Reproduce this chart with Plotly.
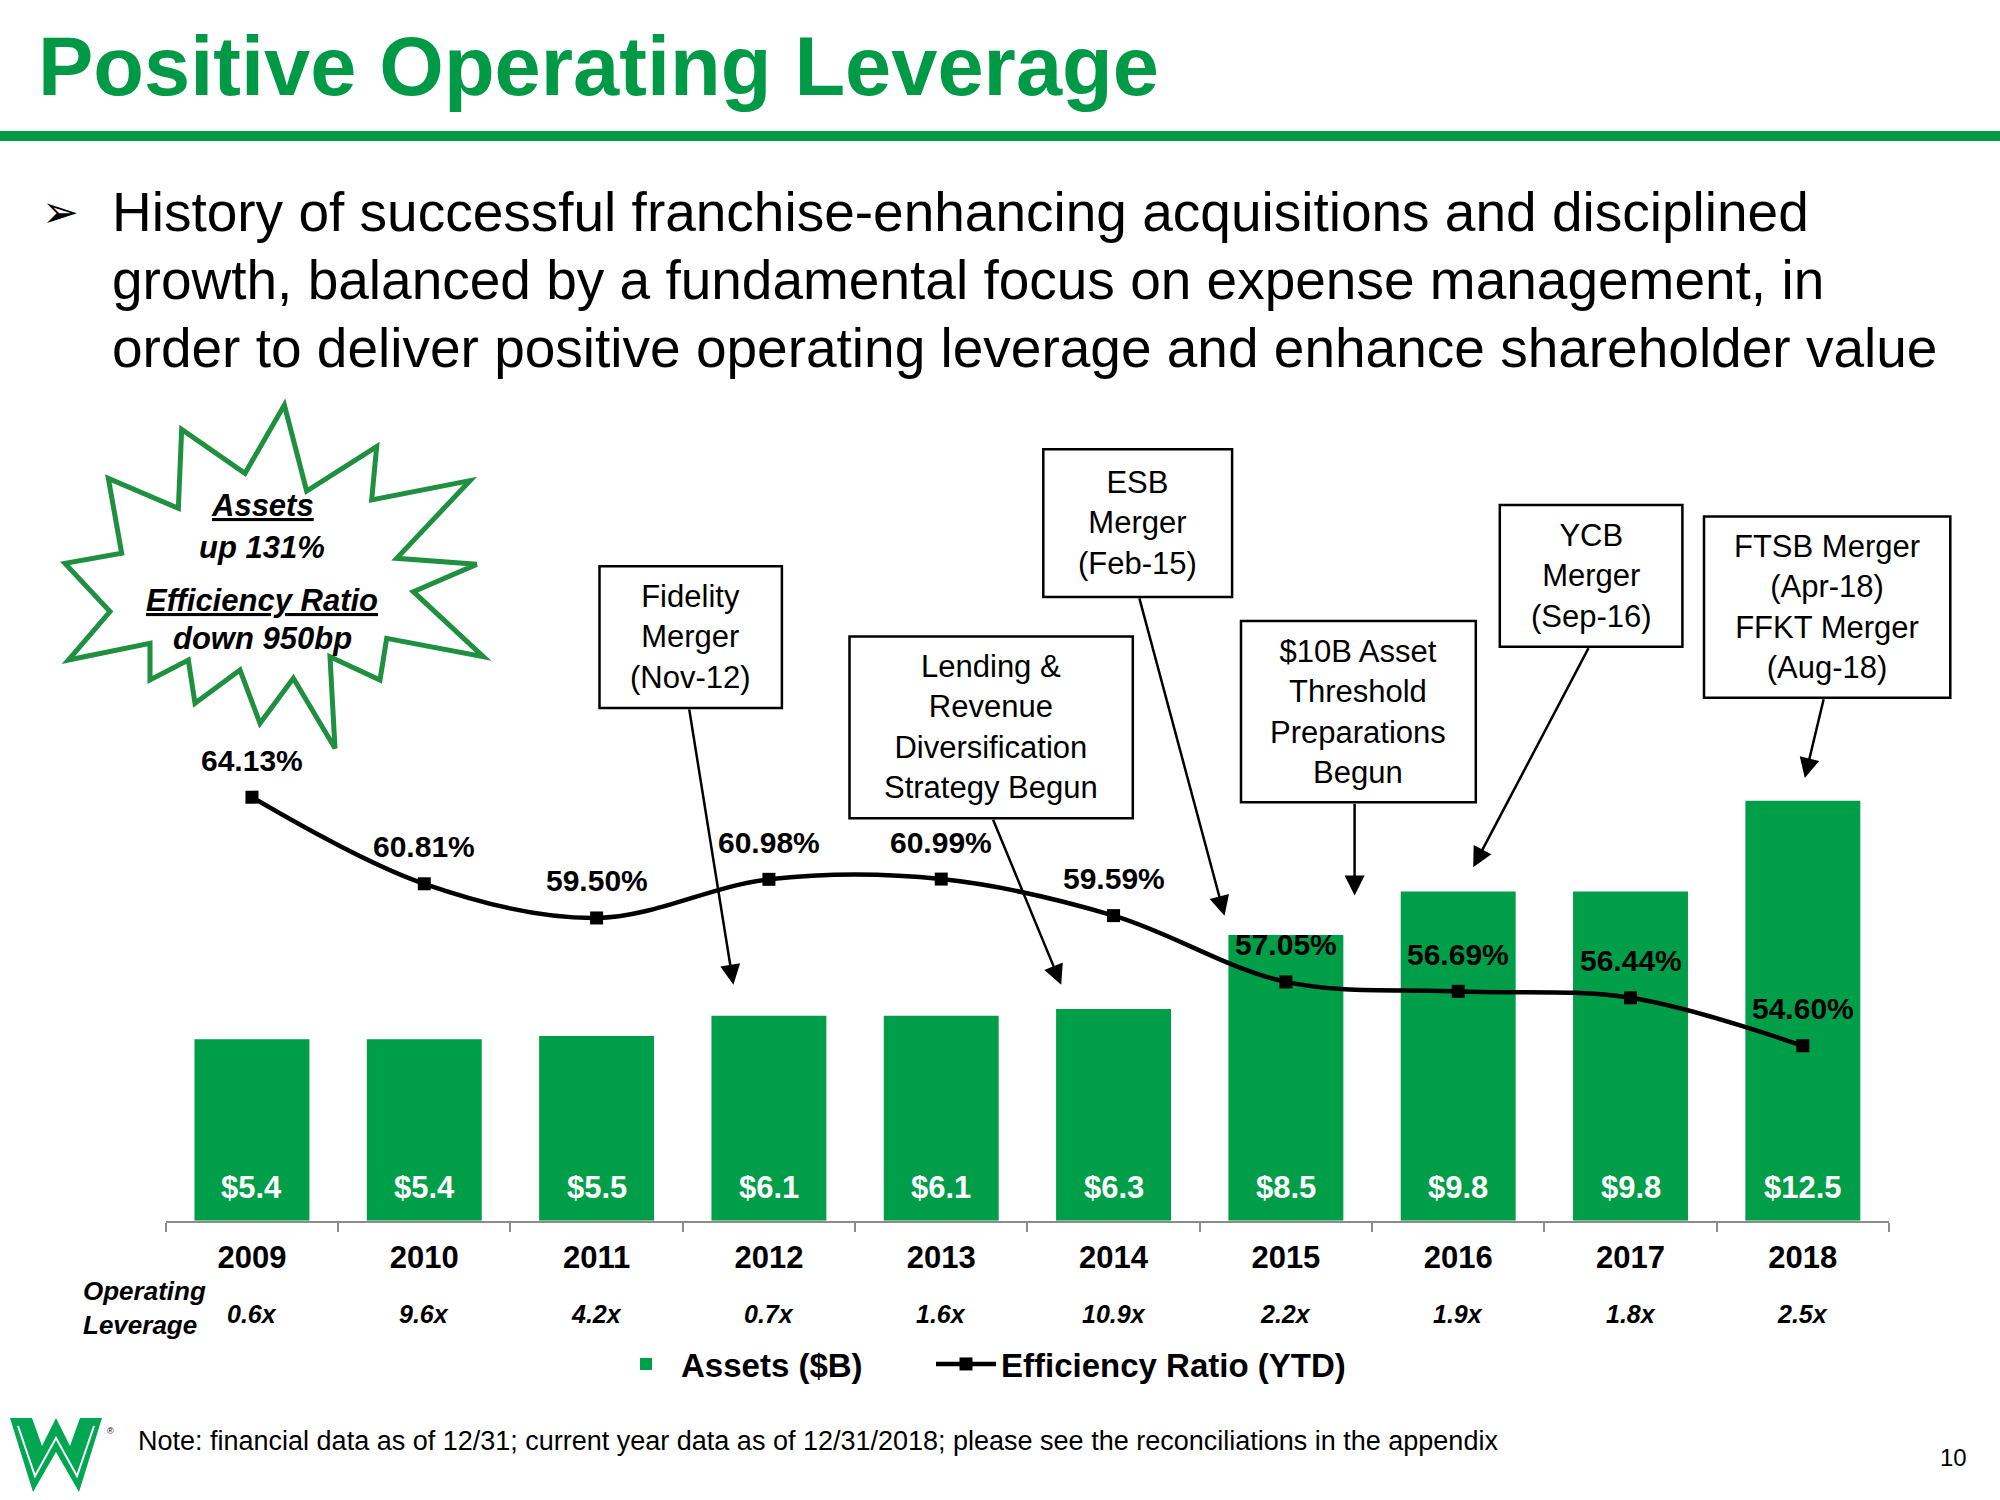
import plotly.graph_objects as go

# ---------------- data ----------------
years = ["2009", "2010", "2011", "2012", "2013", "2014", "2015", "2016", "2017", "2018"]
assets = [5.4, 5.4, 5.5, 6.1, 6.1, 6.3, 8.5, 9.8, 9.8, 12.5]
efficiency = [64.13, 60.81, 59.50, 60.98, 60.99, 59.59, 57.05, 56.69, 56.44, 54.60]
op_leverage = [0.6, 9.6, 4.2, 0.7, 1.6, 10.9, 2.2, 1.9, 1.8, 2.5]

title_text = "Positive Operating Leverage"
subtitle_lines = [
    "History of successful franchise-enhancing acquisitions and disciplined",
    "growth, balanced by a fundamental focus on expense management, in",
    "order to deliver positive operating leverage and enhance shareholder value",
]
callout_texts = [
    "Fidelity<br>Merger<br>(Nov-12)",
    "Lending &<br>Revenue<br>Diversification<br>Strategy Begun",
    "ESB<br>Merger<br>(Feb-15)",
    "$10B Asset<br>Threshold<br>Preparations<br>Begun",
    "YCB<br>Merger<br>(Sep-16)",
    "FTSB Merger<br>(Apr-18)<br>FFKT Merger<br>(Aug-18)",
]
note_text = ("Note: financial data as of 12/31; current year data as of 12/31/2018; "
             "please see the reconciliations in the appendix")

# ---------------- layout helpers (pixel -> paper) ----------------
W, H = 2000, 1500
def PX(x):
    return x / W
def PY(y):
    return 1 - y / H

FONT = "Liberation Sans, Arial, Helvetica, sans-serif"
GREEN = "#009E49"
TITLE_GREEN = "#009A46"
STAR_GREEN = "#1E9040"

fig = go.Figure()

fig.add_trace(go.Bar(
    x=years, y=assets, name="Assets ($B)",
    marker=dict(color=GREEN, line=dict(width=0)),
    width=0.667, yaxis="y", hoverinfo="skip", legend="legend",
))
fig.add_trace(go.Scatter(
    x=years, y=efficiency, name="Efficiency Ratio (YTD)",
    mode="lines+markers", yaxis="y2", legend="legend2",
    line=dict(color="black", width=4.5, shape="spline", smoothing=1.0),
    marker=dict(symbol="square", size=13, color="black"),
    hoverinfo="skip",
))

annotations = []
shapes = []

# Title + underline
annotations.append(dict(
    text=title_text, x=PX(36), y=PY(66), xref="paper", yref="paper",
    xanchor="left", yanchor="middle", showarrow=False,
    font=dict(family=FONT, size=83, color=TITLE_GREEN, weight="bold"),
))
shapes.append(dict(type="rect", xref="paper", yref="paper",
                   x0=0, x1=1, y0=PY(141), y1=PY(131),
                   fillcolor=TITLE_GREEN, line=dict(width=0)))

# Bullet + subtitle
annotations.append(dict(
    text="➢", x=PX(60), y=PY(212), xref="paper", yref="paper",
    xanchor="center", yanchor="middle", showarrow=False,
    font=dict(family="DejaVu Sans", size=44, color="black"),
))
for i, line in enumerate(subtitle_lines):
    annotations.append(dict(
        text=line, x=PX(110), y=PY(212 + 68 * i), xref="paper", yref="paper",
        xanchor="left", yanchor="middle", showarrow=False,
        font=dict(family=FONT, size=55, color="black"),
    ))

# Starburst
star_zoom = [(733, 45), (800, 303), (1010, 170), (995, 330), (1290, 272), (1070, 505),
             (1310, 523), (1120, 605), (1330, 800), (1040, 745), (1020, 870), (870, 800),
             (885, 1075), (760, 865), (660, 1000), (600, 840), (465, 940), (445, 810),
             (330, 870), (330, 760), (85, 810), (210, 665), (75, 520), (245, 490),
             (205, 265), (415, 355), (425, 118), (615, 250)]
star_pts = [(x / 3 + 40, y / 3 + 390) for x, y in star_zoom]
path = "M " + " L ".join(f"{PX(x):.5f},{PY(y):.5f}" for x, y in star_pts) + " Z"
shapes.append(dict(type="path", xref="paper", yref="paper", path=path,
                   fillcolor="white", line=dict(color=STAR_GREEN, width=5)))
star_text = [("Assets", 506, True), ("up 131%", 547, False),
             ("Efficiency Ratio", 600, True), ("down 950bp", 638, False)]
for t, yy, ul in star_text:
    annotations.append(dict(
        text=t, x=PX(262), y=PY(yy), xref="paper", yref="paper",
        xanchor="center", yanchor="middle", showarrow=False,
        font=dict(family=FONT, size=31, color="black", weight="bold", style="italic",
                  lineposition="under" if ul else "none"),
    ))

# Callout boxes (x0, x1, y0, y1 in pixels) and arrows (tail, tip)
boxes = [
    (599.5, 781.9, 566.3, 707.9),
    (849.5, 1132.8, 636.6, 818.3),
    (1043.3, 1232.1, 449.3, 596.9),
    (1241.0, 1475.8, 621.0, 802.3),
    (1499.8, 1682.4, 505.0, 646.7),
    (1704.0, 1950.3, 516.6, 697.7),
]
arrows = [
    ((689.0, 707.9), (733.4, 984.7)),
    ((992.5, 818.3), (1061.2, 984.7)),
    ((1139.0, 596.9), (1224.5, 915.8)),
    ((1354.6, 802.3), (1354.6, 895.4)),
    ((1589.3, 646.7), (1473.2, 867.3)),
    ((1824.0, 697.7), (1804.8, 778.0)),
]
for (x0, x1, y0, y1), txt in zip(boxes, callout_texts):
    shapes.append(dict(type="rect", xref="paper", yref="paper",
                       x0=PX(x0), x1=PX(x1), y0=PY(y1), y1=PY(y0),
                       fillcolor="white", line=dict(color="black", width=2.5)))
    annotations.append(dict(
        text=txt, x=PX((x0 + x1) / 2), y=PY((y0 + y1) / 2), xref="paper", yref="paper",
        xanchor="center", yanchor="middle", showarrow=False, align="center",
        font=dict(family=FONT, size=31, color="black"),
    ))
for (tx, ty), (hx, hy) in arrows:
    annotations.append(dict(
        text="", x=PX(hx), y=PY(hy), xref="paper", yref="paper",
        ax=tx - hx, ay=ty - hy, axref="pixel", ayref="pixel",
        showarrow=True, arrowhead=2, arrowsize=1.6, arrowwidth=2.5,
        arrowcolor="black", standoff=0,
    ))

# Efficiency ratio labels (category index positions on the x axis)
for i, v in enumerate(efficiency):
    annotations.append(dict(
        text=f"{v:.2f}%", x=i, y=v, xref="x", yref="y2", yshift=37,
        xanchor="center", yanchor="middle", showarrow=False,
        font=dict(family=FONT, size=30, color="black", weight="bold"),
    ))

# Asset labels inside bars
for i, v in enumerate(assets):
    annotations.append(dict(
        text=f"${v:.1f}", x=i, y=0, xref="x", yref="y", yshift=33,
        xanchor="center", yanchor="middle", showarrow=False,
        font=dict(family=FONT, size=31, color="white", weight="bold"),
    ))

# Operating leverage row
annotations.append(dict(
    text="Operating<br>Leverage", x=PX(81), y=PY(1308), xref="paper", yref="paper",
    xanchor="left", yanchor="middle", showarrow=False, align="left",
    font=dict(family=FONT, size=26, color="black", weight="bold", style="italic"),
))
for i, v in enumerate(op_leverage):
    annotations.append(dict(
        text=f"{v}x", x=i, y=PY(1314), xref="x", yref="paper",
        xanchor="center", yanchor="middle", showarrow=False,
        font=dict(family=FONT, size=25, color="black", weight="bold", style="italic"),
    ))

# Footnote, page number
annotations.append(dict(
    text=note_text, x=PX(136), y=PY(1441), xref="paper", yref="paper",
    xanchor="left", yanchor="middle", showarrow=False,
    font=dict(family=FONT, size=27, color="black"),
))
annotations.append(dict(
    text="10", x=PX(1953), y=PY(1457), xref="paper", yref="paper",
    xanchor="center", yanchor="middle", showarrow=False,
    font=dict(family=FONT, size=24, color="black"),
))
annotations.append(dict(
    text="®", x=PX(110), y=PY(1431), xref="paper", yref="paper",
    xanchor="center", yanchor="middle", showarrow=False,
    font=dict(family=FONT, size=9, color="black"),
))

# Logo (stylised green W)
logo_outer = [(10, 1418), (32, 1418), (42, 1446), (56, 1418), (70, 1446), (80, 1418),
              (102, 1418), (79, 1492), (56, 1452), (33, 1492)]
logo_path = "M " + " L ".join(f"{PX(x):.5f},{PY(y):.5f}" for x, y in logo_outer) + " Z"
shapes.append(dict(type="path", xref="paper", yref="paper", path=logo_path,
                   fillcolor="#00A651", line=dict(width=0)))
logo_inner = [(18, 1426), (35, 1476), (56, 1438), (77, 1476), (94, 1426)]
logo_ipath = "M " + " L ".join(f"{PX(x):.5f},{PY(y):.5f}" for x, y in logo_inner)
shapes.append(dict(type="path", xref="paper", yref="paper", path=logo_ipath,
                   line=dict(color="white", width=2)))

legend_common = dict(
    orientation="h", xanchor="left", y=PY(1364), yanchor="middle",
    font=dict(family=FONT, size=33, color="black", weight="bold"),
    bgcolor="rgba(0,0,0,0)", itemwidth=60,
)

fig.update_layout(
    width=W, height=H,
    margin=dict(l=0, r=0, t=0, b=0),
    paper_bgcolor="white", plot_bgcolor="rgba(0,0,0,0)",
    font=dict(family=FONT, color="black"),
    bargap=0.333,
    xaxis=dict(
        type="category", domain=[165.8 / W, 1889.0 / W], range=[-0.5, 9.5],
        showgrid=False, zeroline=False, showline=True, linecolor="#8C8C8C", linewidth=2,
        ticks="outside", tickson="boundaries", ticklen=9, tickwidth=2, tickcolor="#8C8C8C",
        tickfont=dict(family=FONT, size=31, color="black", weight="bold"),
        ticklabelstandoff=8, fixedrange=True,
    ),
    yaxis=dict(
        domain=[PY(1220.7), PY(382.7)], range=[0, 24.94],
        visible=False, showgrid=False, zeroline=False, fixedrange=True,
    ),
    yaxis2=dict(
        overlaying="y", range=[47.90, 80.01],
        visible=False, showgrid=False, zeroline=False, fixedrange=True,
    ),
    showlegend=True,
    legend=dict(x=PX(611), **legend_common),
    legend2=dict(x=PX(931), **legend_common),
    shapes=shapes,
    annotations=annotations,
)

fig.write_html(
    "out.html",
    config={"displayModeBar": False},
    post_script="document.body.style.margin='0px';document.body.style.overflow='hidden';",
)
